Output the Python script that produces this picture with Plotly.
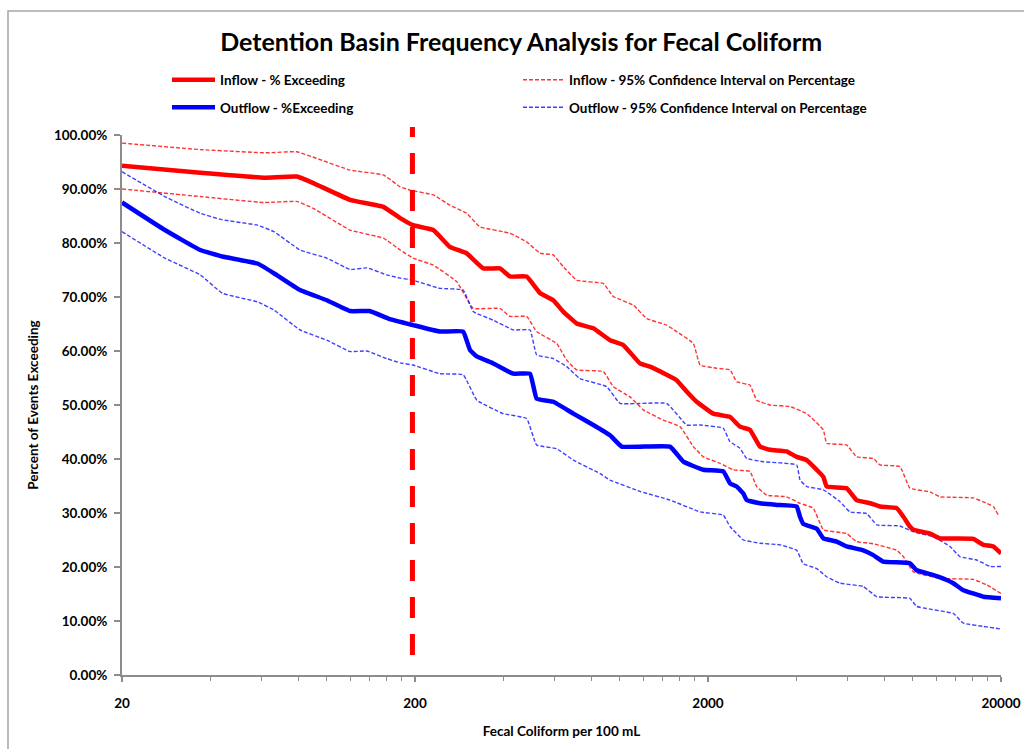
import plotly.graph_objects as go

# ---------------------------- Data ----------------------
# Fecal coliform per 100 mL (x) vs percent of events exceeding (y)
inflow_x = [20, 37, 61, 79, 90, 120, 156, 178, 197, 231, 263, 300, 342, 390, 422,
            481, 535, 593, 641, 713, 812, 926, 1028, 1172, 1268, 1445, 1563, 1691,
            1829, 2084, 2377, 2570, 2780, 3008, 3256, 3707, 4016, 4346, 4700, 4952,
            5082, 5946, 6428, 7146, 7728, 8811, 9290, 9774, 10046, 11455, 12388,
            16079, 17418, 18836, 20000]
inflow_pct = [94.3, 93.0, 92.1, 92.3, 91.1, 88.0, 86.7, 84.6, 83.3, 82.4, 79.3, 78.1,
              75.3, 75.3, 73.8, 73.8, 70.7, 69.4, 67.3, 65.1, 64.2, 62.0, 61.1, 57.7,
              57.1, 55.6, 54.6, 52.5, 50.6, 48.4, 47.8, 46.0, 45.4, 42.3, 41.7, 41.4,
              40.4, 39.8, 38.0, 36.7, 34.9, 34.6, 32.4, 31.8, 31.2, 30.9, 29.3, 27.5,
              26.9, 26.2, 25.3, 25.2, 24.1, 23.8, 22.5]

inflow_hi_x = [20, 37, 62, 79, 92, 120, 156, 178, 192, 231, 263, 300, 333, 422, 481,
               535, 593, 641, 713, 879, 950, 1112, 1236, 1445, 1563, 1783, 1879, 2142,
               2377, 2506, 2780, 2932, 3256, 3811, 4346, 4952, 5082, 5946, 6428, 7332,
               7728, 9040, 9774, 11455, 12388, 16079, 17873, 18836, 19600]
inflow_hi_pct = [98.5, 97.3, 96.7, 96.9, 95.7, 93.5, 92.6, 90.4, 89.8, 88.9, 87.0, 85.5,
                 83.0, 81.8, 80.2, 78.1, 77.8, 75.6, 73.1, 72.5, 70.1, 68.5, 66.0, 64.8,
                 63.6, 61.4, 57.4, 56.8, 56.5, 54.3, 53.7, 50.9, 50.0, 49.7, 48.4, 45.4,
                 42.9, 42.6, 40.4, 40.1, 38.9, 38.6, 34.6, 33.9, 33.0, 32.8, 31.8, 31.2,
                 29.6]

inflow_lo_x = [20, 37, 61, 79, 90, 120, 156, 178, 197, 231, 278, 316, 390, 422, 481,
               520, 609, 659, 713, 879, 950, 1084, 1203, 1408, 1605, 1783, 1928, 2198,
               2439, 2780, 2932, 3172, 3707, 4121, 4574, 4952, 5946, 6428, 7332, 8811,
               9290, 10046, 12388, 16079, 17873, 20000]
inflow_lo_pct = [90.0, 88.6, 87.5, 87.7, 86.4, 82.4, 80.9, 78.7, 77.2, 75.9, 72.8, 67.9,
                 67.9, 66.4, 66.4, 63.6, 61.4, 58.3, 56.5, 56.2, 53.4, 51.5, 49.1, 47.2,
                 46.0, 42.3, 40.4, 39.2, 38.0, 37.7, 34.9, 33.3, 33.0, 31.8, 30.9, 26.9,
                 26.2, 24.7, 24.3, 23.1, 21.9, 19.1, 17.9, 17.7, 16.7, 15.1]

outflow_x = [20, 28, 37, 44, 58, 66, 81, 100, 120, 140, 164, 197, 243, 292, 308, 325,
             370, 433, 494, 520, 593, 694, 812, 926, 1015, 1484, 1648, 1928, 2256, 2377,
             2506, 2640, 2710, 3008, 3432, 4016, 4121, 4228, 4700, 4952, 5498, 5946,
             6776, 7332, 7930, 9774, 10310, 11750, 13052, 13748, 14872, 16079, 17418,
             20000]
outflow_pct = [87.5, 82.4, 78.7, 77.5, 76.2, 74.4, 71.3, 69.4, 67.4, 67.4, 65.9, 64.8,
               63.6, 63.6, 60.2, 59.0, 57.7, 55.8, 55.8, 51.2, 50.6, 48.4, 46.3, 44.4,
               42.3, 42.3, 39.5, 38.0, 37.7, 35.5, 34.9, 33.6, 32.4, 31.8, 31.5, 31.2,
               29.3, 28.0, 27.1, 25.3, 24.7, 23.8, 23.1, 22.2, 21.0, 20.7, 19.4, 18.5,
               17.6, 17.0, 15.7, 15.1, 14.5, 14.2]

outflow_hi_x = [20, 28, 37, 44, 58, 66, 81, 100, 120, 137, 160, 178, 197, 243, 292, 316,
                370, 433, 494, 520, 593, 659, 731, 902, 1002, 1445, 1691, 1879, 2256,
                2377, 2570, 2710, 3090, 4016, 4121, 4346, 4952, 5644, 6104, 6961, 7532,
                9040, 10046, 11750, 13398, 14488, 16521, 18354, 20000]
outflow_hi_pct = [93.2, 88.6, 85.5, 84.3, 83.3, 82.1, 78.7, 77.2, 75.1, 75.4, 74.1, 73.5,
                  73.1, 71.6, 71.3, 67.3, 65.7, 63.9, 63.9, 59.3, 58.6, 57.1, 54.9, 53.4,
                  50.3, 50.3, 46.3, 46.3, 45.7, 43.2, 42.0, 40.1, 39.5, 38.9, 36.1, 34.9,
                  34.3, 32.1, 30.2, 29.9, 27.8, 27.6, 26.5, 25.6, 23.8, 21.9, 21.3, 20.1,
                  20.1]

outflow_lo_x = [20, 28, 37, 44, 58, 66, 81, 100, 120, 137, 160, 178, 197, 243, 292, 325,
                400, 481, 520, 609, 694, 856, 926, 1172, 1484, 1879, 2256, 2377, 2640,
                3008, 3522, 4016, 4228, 4700, 5082, 5644, 6776, 7532, 9774, 10310, 13748,
                14872, 17418, 20000]
outflow_lo_pct = [82.1, 77.2, 74.1, 70.7, 69.1, 67.6, 63.9, 62.0, 59.9, 60.0, 58.6, 57.8,
                  57.4, 55.8, 55.6, 50.9, 48.4, 47.5, 42.6, 41.9, 39.8, 37.3, 36.1, 34.0,
                  32.4, 30.2, 29.6, 27.5, 25.0, 24.4, 24.1, 23.1, 20.6, 19.7, 18.2, 17.0,
                  16.4, 14.5, 14.2, 12.7, 11.4, 9.6, 9.0, 8.5]

criterion = 196            # dashed red reference line (~200 per 100 mL)
criterion_span = [3.7, 101.5]

x_ticks = [20, 200, 2000, 20000]
x_minor = [d * k for d in (20, 200, 2000) for k in range(2, 10)]

FONT = "Lato"
RED = "#FF0000"
BLUE = "#0000FF"
TXT = 13.5

# ---------------------------- Figure -----------------------------------------
fig = go.Figure()

def add_series(x, y, name, color, width, dash, legend, show):
    fig.add_trace(go.Scatter(
        x=x, y=y, mode="lines", name=name,
        line=dict(color=color, width=width, dash=dash, shape="spline", smoothing=0.3),
        legend=legend, showlegend=show))

# confidence intervals first so the main curves sit on top
add_series(inflow_hi_x, inflow_hi_pct, "Inflow - 95% Confidence Interval on Percentage",
           "rgba(255,0,0,0.8)", 1.4, "4px,2px", "legend2", True)
add_series(inflow_lo_x, inflow_lo_pct, "Inflow CI low",
           "rgba(255,0,0,0.8)", 1.4, "4px,2px", "legend2", False)
add_series(outflow_hi_x, outflow_hi_pct, "Outflow - 95% Confidence Interval on Percentage",
           "rgba(0,0,255,0.75)", 1.4, "4px,2px", "legend4", True)
add_series(outflow_lo_x, outflow_lo_pct, "Outflow CI low",
           "rgba(0,0,255,0.75)", 1.4, "4px,2px", "legend4", False)
add_series(inflow_x, inflow_pct, "Inflow - % Exceeding", RED, 4.5, "solid", "legend", True)
add_series(outflow_x, outflow_pct, "Outflow - %Exceeding", BLUE, 4.5, "solid", "legend3", True)

# dashed vertical line
fig.add_shape(type="line", xref="x", yref="paper",
              x0=criterion, x1=criterion,
              y0=criterion_span[0] / 100, y1=criterion_span[1] / 100,
              line=dict(color=RED, width=5, dash="21px,16px"))

# outer chart border
fig.add_shape(type="rect", xref="paper", yref="paper",
              x0=-0.1297, x1=1.04, y0=-0.16, y1=1.2296,
              line=dict(color="#a6a6a6", width=1.5), layer="below")

legend_font = dict(family=FONT, size=TXT, color="#000000", weight="bold")
main_leg = dict(font=legend_font, bgcolor="rgba(0,0,0,0)", yanchor="middle",
                xanchor="left", orientation="v", itemwidth=43)
ci_leg = dict(font=legend_font, bgcolor="rgba(0,0,0,0)", yanchor="middle",
              xanchor="left", orientation="v", itemwidth=41)

fig.update_layout(
    width=1024, height=749,
    margin=dict(l=122, r=23, t=135, b=74),
    paper_bgcolor="white", plot_bgcolor="white",
    title=dict(text="Detention Basin Frequency Analysis for Fecal Coliform",
               x=0.509, xanchor="center", y=1 - 42 / 749, yanchor="middle",
               font=dict(family=FONT, size=25, color="#000000", weight="bold")),
    legend=dict(x=(167 - 122) / 879, y=(675 - 80) / 540, **main_leg),
    legend3=dict(x=(167 - 122) / 879, y=(675 - 107.5) / 540, **main_leg),
    legend2=dict(x=(518 - 122) / 879, y=(675 - 80) / 540, **ci_leg),
    legend4=dict(x=(518 - 122) / 879, y=(675 - 107.5) / 540, **ci_leg),
    font=dict(family=FONT, color="#000000"),
)

fig.update_xaxes(
    type="log", range=[1.30103, 4.30103], automargin=False,
    tickvals=x_ticks, ticktext=[str(v) for v in x_ticks],
    ticks="outside", ticklen=5, tickcolor="#8c8c8c", tickwidth=1.5,
    ticklabelstandoff=10,
    minor=dict(tickvals=x_minor, ticks="outside", ticklen=4,
               tickcolor="#8c8c8c", tickwidth=1.2, showgrid=False),
    showline=True, linecolor="#8c8c8c", linewidth=2,
    showgrid=False, zeroline=False,
    tickfont=dict(family=FONT, size=TXT, color="#000000", weight="bold"),
    title=dict(text="Fecal Coliform per 100 mL", standoff=16,
               font=dict(family=FONT, size=TXT, color="#000000", weight="bold")),
)

fig.update_yaxes(
    range=[0, 100], dtick=10, tickformat=".2f", ticksuffix="%", automargin=False,
    ticks="outside", ticklen=6, tickcolor="#8c8c8c", tickwidth=1.5,
    ticklabelstandoff=4,
    showline=True, linecolor="#8c8c8c", linewidth=2,
    showgrid=False, zeroline=False,
    tickfont=dict(family=FONT, size=TXT, color="#000000", weight="bold"),
    title=dict(text="Percent of Events Exceeding", standoff=12,
               font=dict(family=FONT, size=TXT, color="#000000", weight="bold")),
)

# drop the default page margin so the 1024x749 figure fills the window exactly
fig.write_html("out.html", config={"displayModeBar": False},
               post_script="document.body.style.margin='0';"
                           "document.body.style.overflow='hidden';")
